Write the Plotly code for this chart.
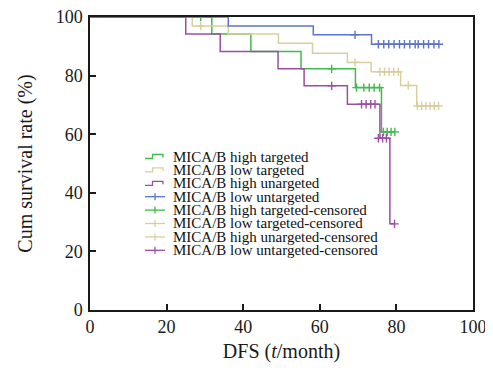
import plotly.graph_objects as go

# ---------------- data ----------------
series_names = [
    "MICA/B high targeted",
    "MICA/B low targeted",
    "MICA/B high unargeted",
    "MICA/B low untargeted",
]
legend_labels = [
    "MICA/B high targeted",
    "MICA/B low targeted",
    "MICA/B high unargeted",
    "MICA/B low untargeted",
    "MICA/B high targeted-censored",
    "MICA/B low targeted-censored",
    "MICA/B high unargeted-censored",
    "MICA/B low untargeted-censored",
]

# step curves (time in months, cumulative survival %)
high_targeted_t = [0, 31.8, 42.0, 55.1, 69.3, 76.1, 79.6]
high_targeted_s = [100, 94.2, 88.2, 82.3, 75.9, 60.8, 60.8]
high_targeted_ct = [28.9, 63.1, 69.6, 71.5, 72.9, 74.2, 75.6, 76.6, 77.6, 78.6, 79.6]
high_targeted_cs = [100, 82.3, 75.9, 75.9, 75.9, 75.9, 75.9, 60.8, 60.8, 60.8, 60.8]

low_targeted_t = [0, 26.7, 36.1, 49.2, 58.1, 67.2, 73.4, 81.1, 85.3, 91.0]
low_targeted_s = [100, 96.9, 94.2, 91.0, 87.6, 84.5, 81.3, 76.6, 69.6, 69.6]
low_targeted_ct = [28.9, 69.2, 75.7, 76.9, 78.1, 79.3, 80.5, 83.1, 85.5, 86.6, 87.7, 88.8, 89.9, 91.0]
low_targeted_cs = [96.9, 84.5, 81.3, 81.3, 81.3, 81.3, 81.3, 76.6, 69.6, 69.6, 69.6, 69.6, 69.6, 69.6]

high_untargeted_t = [0, 25.0, 34.0, 49.1, 55.9, 67.2, 75.7, 78.3, 79.5]
high_untargeted_s = [100, 94.2, 88.2, 82.3, 76.5, 70.2, 58.6, 29.4, 29.4]
high_untargeted_ct = [63.1, 70.9, 72.1, 73.3, 74.4, 75.3, 76.4, 77.4, 79.5]
high_untargeted_cs = [76.5, 70.2, 70.2, 70.2, 70.2, 58.6, 58.6, 58.6, 29.4]

low_untargeted_t = [0, 36.1, 58.3, 73.5, 91.1]
low_untargeted_s = [100, 96.9, 93.9, 90.7, 90.7]
low_untargeted_ct = [69.2, 75.3, 76.7, 78.0, 79.4, 80.8, 82.1, 83.5, 84.9,
                     85.7, 87.1, 88.4, 89.8, 91.1]
low_untargeted_cs = [93.9] + [90.7] * 13

x_ticks = [0, 20, 40, 60, 80, 100]
y_ticks = [0, 20, 40, 60, 80, 100]

# ---------------- style ----------------
GREEN = "#3fbb49"
KHAKI = "#d8cf9f"
PURPLE = "#9a4fa3"
BLUE = "#5b74c9"
FONT = "Liberation Serif"

curves = [
    (series_names[0], high_targeted_t, high_targeted_s, high_targeted_ct, high_targeted_cs, GREEN),
    (series_names[1], low_targeted_t, low_targeted_s, low_targeted_ct, low_targeted_cs, KHAKI),
    (series_names[2], high_untargeted_t, high_untargeted_s, high_untargeted_ct, high_untargeted_cs, PURPLE),
    (series_names[3], low_untargeted_t, low_untargeted_s, low_untargeted_ct, low_untargeted_cs, BLUE),
]

fig = go.Figure()
for name, t, s, ct, cs, col in curves:
    fig.add_trace(go.Scatter(x=t, y=s, mode="lines", name=name,
                             line=dict(color=col, width=1.5, shape="hv"),
                             showlegend=False))
for name, t, s, ct, cs, col in curves:
    fig.add_trace(go.Scatter(x=ct, y=cs, mode="markers", name=name + "-censored",
                             marker=dict(symbol="cross-thin", size=6,
                                         line=dict(color=col, width=1.4)),
                             showlegend=False))

# ---------------- hand-built legend (compact, like the reference) ----------------
# The page body has an 8px margin, so the figure is shrunk to fit the 493x370 window.
OFF = 8
W, H = 493 - OFF, 370 - OFF
L, R, T, B = 82, 20, 9, 60
pw, ph = W - L - R, H - T - B


def px(xp):
    return (xp - OFF - L) / pw


def py(yp):
    return (H - B - (yp - OFF)) / ph


legend_colors = [GREEN, KHAKI, PURPLE, BLUE, GREEN, KHAKI, KHAKI, PURPLE]
shapes = []
annotations = []
y0 = 156.5
dy = 13.4
for i, (lab, col) in enumerate(zip(legend_labels, legend_colors)):
    c = y0 + i * dy
    if i < 3:
        path = "M {:.4f},{:.4f} L {:.4f},{:.4f} L {:.4f},{:.4f} L {:.4f},{:.4f} L {:.4f},{:.4f}".format(
            px(145), py(c + 2), px(152.5), py(c + 2), px(152.5), py(c - 2),
            px(163), py(c - 2), px(163), py(c + 1))
        shapes.append(dict(type="path", xref="paper", yref="paper", path=path,
                           line=dict(color=col, width=1.3)))
    else:
        shapes.append(dict(type="line", xref="paper", yref="paper",
                           x0=px(145), x1=px(165), y0=py(c), y1=py(c),
                           line=dict(color=col, width=1.3)))
        shapes.append(dict(type="line", xref="paper", yref="paper",
                           x0=px(155), x1=px(155), y0=py(c - 3.5), y1=py(c + 3.5),
                           line=dict(color=col, width=1.3)))
    annotations.append(dict(xref="paper", yref="paper", x=px(170.5), y=py(c),
                            xanchor="left", yanchor="middle", showarrow=False,
                            text=lab, font=dict(family=FONT, size=15, color="#111")))

axis_common = dict(
    showline=True, linecolor="#1a1a1a", linewidth=1.5, mirror=True,
    ticks="inside", ticklen=6, tickwidth=1.5, tickcolor="#1a1a1a",
    showgrid=False, zeroline=False, ticklabeloverflow="allow",
    tickfont=dict(family=FONT, size=18, color="#1a1a1a"),
)

fig.update_layout(
    width=W, height=H,
    margin=dict(l=L, r=R, t=T, b=B, autoexpand=False),
    paper_bgcolor="white", plot_bgcolor="white",
    showlegend=False,
    shapes=shapes,
    annotations=annotations,
    xaxis=dict(range=[0, 100], tickvals=x_ticks, ticklabelstandoff=0,
               title=dict(text="DFS (<i>t</i>/month)", standoff=8,
                          font=dict(family=FONT, size=20, color="#1a1a1a")),
               **axis_common),
    yaxis=dict(range=[0, 100], tickvals=y_ticks, ticklabelstandoff=2,
               title=dict(text="Cum survival rate (%)", standoff=18,
                          font=dict(family=FONT, size=20, color="#1a1a1a")),
               **axis_common),
)

fig.write_html("out.html")
